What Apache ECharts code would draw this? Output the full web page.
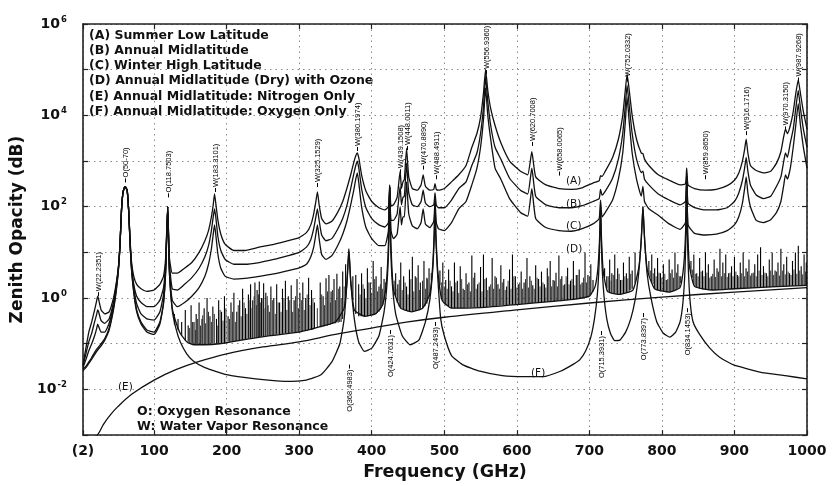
<!DOCTYPE html>
<html>
<head>
<meta charset="utf-8">
<script src="https://cdn.jsdelivr.net/npm/echarts@6/dist/echarts.min.js"></script>
<style>
html,body{margin:0;padding:0;background:#fff;}
#chart{width:839px;height:486px;}
</style>
</head>
<body>
<div id="chart"></div>
<script>
// ---------- DATA ----------
const xTickValues = [2, 100, 200, 300, 400, 500, 600, 700, 800, 900, 1000];

// shared frequency grid for the wet profiles (A, B, C)
const wFreq = [
  2, 6, 10, 14, 18, 21, 22.2, 23.5, 27, 32,
  38, 44, 48, 51, 53, 55, 57, 59, 60, 61,
  63, 65, 67, 69, 72, 76, 82, 90, 100, 108,
  113, 116, 118.75, 121, 125, 132, 142, 152, 162, 170,
  175, 179, 181.5, 183.3, 185, 188, 192, 198, 210, 225,
  245, 265, 285, 300, 310, 316, 320, 323, 325.15, 327.5,
  331, 337, 345, 353, 360, 366, 371, 375, 378, 380.2,
  382.5, 386, 392, 400, 410, 418, 423, 424.76, 426.5, 430,
  435, 439.15, 441, 443.02, 445, 448, 451, 456, 463, 468,
  470.89, 474, 480, 485.5, 487.25, 489, 492, 500, 510, 520,
  530, 538, 545, 550, 554, 556.94, 560, 564, 570, 578,
  590, 605, 615, 620.7, 626, 640, 658, 675, 690, 705,
  713.5, 715.39, 717.5, 722, 732, 740, 746, 749.5, 752.03, 755,
  759, 765, 771.5, 773.84, 776, 782, 795, 810, 825, 832.5,
  834.15, 836, 845, 860, 875, 890, 900, 906, 911, 914,
  916.17, 918.5, 922, 930, 940, 950, 958, 964, 968, 970.3,
  973, 977, 981, 984.5, 987.93, 991, 995, 1000
];
// (A) Summer Low Latitude
const aVal = [
  0.035, 0.08, 0.18, 0.3, 0.55, 0.9, 1.1, 0.95, 0.55, 0.45,
  0.5, 1.0, 2.2, 5, 15, 80, 200, 260, 270, 265,
  220, 80, 18, 6, 3, 2, 1.6, 1.4, 1.5, 2,
  3, 8, 100, 8, 3.5, 3.5, 4.5, 6, 10, 18,
  30, 60, 110, 190, 120, 50, 25, 15, 11, 11,
  13, 15, 18, 21, 27, 40, 70, 130, 210, 110,
  55, 42, 48, 75, 130, 260, 500, 900, 1300, 1500,
  1100, 500, 220, 130, 95, 85, 100, 300, 105, 110,
  160, 600, 250, 350, 400, 1900, 450, 250, 230, 300,
  500, 280, 230, 240, 320, 240, 230, 250, 350, 500,
  800, 2000, 4000, 9000, 30000, 100000, 35000, 14000, 6000, 2500,
  1000, 600, 500, 1600, 450, 300, 250, 240, 260, 330,
  370, 480, 460, 600, 1200, 3000, 10000, 35000, 80000, 35000,
  10000, 3000, 1500, 1450, 1100, 800, 500, 380, 300, 320,
  700, 300, 250, 230, 240, 290, 380, 550, 1000, 1800,
  3000, 1500, 800, 620, 550, 600, 900, 1600, 3500, 5000,
  4000, 6000, 12000, 30000, 60000, 30000, 12000, 5000
];
// (B) Annual Midlatitude
const bVal = [
  0.033, 0.06, 0.11, 0.17, 0.3, 0.45, 0.55, 0.5, 0.32, 0.28,
  0.35, 0.8, 2, 5, 15, 80, 200, 260, 270, 265,
  220, 80, 16, 5, 2, 1.1, 0.8, 0.65, 0.65, 0.9,
  1.7, 6, 100, 6, 1.6, 1.5, 2, 2.8, 4.5, 8,
  14, 30, 60, 90, 60, 22, 11, 7, 5.5, 5.5,
  6, 7, 8.5, 10, 13, 19, 33, 60, 90, 50,
  24, 18, 20, 32, 55, 110, 250, 500, 800, 1000,
  650, 250, 95, 55, 40, 36, 45, 280, 50, 50,
  70, 280, 110, 160, 170, 900, 200, 110, 100, 130,
  230, 120, 100, 110, 200, 108, 95, 95, 140, 250,
  350, 800, 1500, 4000, 15000, 70000, 20000, 6000, 2000, 1100,
  420, 230, 190, 700, 170, 110, 95, 95, 105, 130,
  150, 240, 180, 220, 420, 1100, 4000, 16000, 45000, 16000,
  4000, 1100, 560, 600, 400, 300, 190, 140, 110, 130,
  550, 120, 95, 85, 85, 95, 130, 200, 380, 700,
  1200, 600, 300, 180, 150, 170, 280, 450, 1000, 1500,
  1200, 2500, 5000, 14000, 35000, 14000, 5000, 2000
];
// (C) Winter High Latitude
const cVal = [
  0.03, 0.045, 0.07, 0.1, 0.15, 0.22, 0.27, 0.24, 0.18, 0.18,
  0.28, 0.7, 1.8, 5, 15, 80, 200, 260, 270, 265,
  220, 80, 15, 4.5, 1.7, 0.75, 0.45, 0.35, 0.33, 0.5,
  1.2, 5, 100, 5, 0.9, 0.65, 0.8, 1.1, 1.7, 3,
  5.5, 12, 25, 40, 25, 9, 4.5, 3, 2.6, 2.7,
  3, 3.4, 4, 4.6, 5.5, 8, 13, 25, 40, 20,
  9, 7, 8.5, 14, 25, 50, 110, 220, 400, 550,
  300, 100, 35, 20, 14, 14, 30, 270, 30, 20,
  25, 100, 40, 60, 60, 350, 70, 38, 33, 45,
  90, 42, 35, 48, 140, 45, 33, 30, 45, 90,
  130, 300, 700, 2000, 8000, 40000, 10000, 3000, 700, 400,
  150, 75, 62, 250, 55, 35, 30, 29, 33, 42,
  55, 140, 60, 75, 140, 400, 1500, 7000, 25000, 7000,
  1500, 400, 170, 280, 130, 90, 65, 42, 32, 45,
  470, 40, 26, 24, 25, 30, 40, 60, 120, 250,
  450, 200, 100, 50, 45, 52, 75, 130, 300, 500,
  400, 700, 2000, 6000, 18000, 6000, 2000, 700
];

// (D) Annual Midlatitude (Dry) with Ozone : continuum + O2 lines
const dFreq = [
  2, 6, 10, 14, 18, 22, 27, 32, 38, 44,
  48, 51, 53, 55, 57, 59, 60, 61, 63, 65,
  67, 69, 72, 76, 82, 90, 100, 108, 113, 116,
  118.75, 121, 125, 130, 136, 145, 155, 170, 190, 220,
  260, 300, 330, 350, 362, 366, 368.5, 371, 376, 390,
  405, 415, 420, 423, 424.76, 426.5, 430, 440, 455, 470,
  480, 484, 486, 487.25, 488.5, 491, 497, 510, 550, 600,
  650, 680, 700, 708, 712, 714.3, 715.39, 716.5, 719, 725,
  740, 760, 768, 771.5, 773.84, 776.2, 780, 790, 810, 825,
  830, 832.7, 834.15, 835.6, 838, 845, 870, 900, 950, 1000
];
const dVal = [
  0.028, 0.032, 0.04, 0.05, 0.065, 0.08, 0.1, 0.13, 0.22, 0.6,
  1.6, 4.5, 14, 80, 200, 260, 270, 265, 220, 80,
  14, 4, 1.4, 0.55, 0.3, 0.2, 0.18, 0.3, 0.8, 4,
  100, 4, 0.6, 0.3, 0.17, 0.11, 0.095, 0.095, 0.1, 0.12,
  0.15, 0.18, 0.24, 0.3, 0.6, 2.5, 12, 2.5, 0.55, 0.4,
  0.45, 0.7, 2, 15, 280, 15, 1.5, 0.6, 0.5, 0.6,
  1.2, 5, 25, 130, 25, 4, 0.9, 0.6, 0.62, 0.72,
  0.85, 0.95, 1.1, 1.8, 5, 25, 110, 25, 4, 1.4,
  1.2, 1.5, 4.5, 18, 100, 18, 4, 1.6, 1.35, 1.7,
  5, 30, 450, 30, 5, 1.8, 1.5, 1.6, 1.75, 1.9
];
// ozone line forest of (D), strong lines: frequency, foot and top of each line
const o3Freq = [
  128,133,138,143,147,151,155,158,162,166,
  169,173,177,181,186,189,193,197,202,206,
  210,214,218,222,226,230,233,236,239,242,
  245,248,251,254,257,261,265,269,273,277,
  281,285,289,293,297,301,305,309,313,317,
  321,329,333,337,341,344,348,352,356,360,
  364,374,378,382,386,390,394,398,402,406,
  410,413,417,433,436,440,444,448,452,456,
  460,464,467,472,476,479,494,498,502,506,
  510,514,518,522,526,530,534,538,542,546,
  550,554,558,562,566,570,574,578,582,586,
  590,594,598,602,606,610,614,618,622,626,
  630,634,638,642,646,650,654,658,662,666,
  670,674,678,682,686,690,694,698,702,705,
  721,724,728,731,735,739,743,747,751,755,
  759,763,782,786,790,794,798,802,806,810,
  814,818,822,826,840,844,848,852,856,860,
  864,868,872,876,880,884,888,892,896,900,
  904,908,912,916,920,924,928,932,936,940,
  944,948,952,956,960,964,968,972,976,980,
  984,988,992,996,999
];
const o3Top = [
  0.45,0.35,0.3,0.55,0.25,0.7,0.3,0.45,0.8,0.35,
  0.6,1.0,0.4,0.65,0.35,0.9,0.5,1.1,0.4,0.8,
  1.3,0.5,0.9,1.6,0.6,1.2,2.0,0.9,2.2,1.5,
  2.3,1.0,2.1,1.3,0.7,1.8,1.0,2.0,0.8,1.6,
  2.4,1.1,1.9,0.9,2.6,1.3,2.2,1.0,2.8,1.5,
  0.8,2.2,1.1,2.7,3.2,1.4,2.6,3.4,1.8,3.8,
  5.5,3.0,3.2,2.0,3.5,1.6,4.5,2.2,6.5,3.0,
  1.8,4.8,2.6,3.5,2.0,6.0,3.0,1.8,4.2,8.0,
  3.0,5.2,2.2,6.5,2.8,4.5,4.0,6.0,2.5,4.2,
  1.8,6.0,2.4,5.0,1.6,3.5,2.2,8.5,3.6,2.0,
  4.8,9.0,2.8,1.8,7.5,3.0,2.0,5.2,2.6,1.8,
  4.2,9.0,3.0,2.0,3.8,2.2,7.5,3.0,1.9,5.2,
  2.6,3.8,2.0,4.5,6.5,2.5,3.6,8.5,3.0,2.0,
  4.6,2.4,6.5,3.2,4.2,2.2,10,3.2,5.5,2.5,
  4.5,3.0,7.0,3.5,9.0,4.5,2.5,6.0,3.5,8.0,
  4.0,10,6.5,9.0,4.5,7.5,3.5,5.5,2.5,7.0,
  4.2,10,5.5,3.0,6.5,9.0,3.5,7.5,4.0,10,
  5.5,3.0,7.0,4.5,12,6.0,9.0,3.5,5.0,8.0,
  3.2,6.0,10,4.5,7.0,3.5,5.5,9.0,13,5.0,
  3.5,7.0,10,4.0,6.0,12,5.5,8.0,3.5,6.5,
  10,14,5.0,9.0,6.0
];
const o3Base = [
  0.26,0.2,0.15,0.12,0.11,0.1,0.095,0.095,0.095,0.095,
  0.095,0.095,0.095,0.1,0.1,0.1,0.1,0.1,0.11,0.11,
  0.115,0.115,0.12,0.12,0.125,0.13,0.13,0.135,0.135,0.14,
  0.14,0.145,0.145,0.15,0.15,0.155,0.155,0.16,0.16,0.165,
  0.17,0.17,0.175,0.175,0.18,0.18,0.19,0.19,0.2,0.2,
  0.21,0.23,0.24,0.25,0.26,0.27,0.28,0.29,0.3,0.35,
  1.0,0.9,0.45,0.4,0.4,0.4,0.4,0.42,0.43,0.45,
  0.5,0.6,0.9,1.1,0.85,0.6,0.55,0.52,0.5,0.5,
  0.52,0.55,0.58,0.65,0.75,1.1,1.9,0.85,0.7,0.65,
  0.6,0.6,0.6,0.6,0.6,0.61,0.61,0.62,0.62,0.62,
  0.62,0.63,0.64,0.65,0.66,0.67,0.68,0.69,0.7,0.7,
  0.71,0.71,0.72,0.73,0.74,0.75,0.76,0.77,0.78,0.79,
  0.8,0.81,0.82,0.83,0.84,0.85,0.86,0.87,0.88,0.89,
  0.9,0.92,0.93,0.94,0.96,0.98,1.0,1.05,1.2,1.4,
  2.8,1.65,1.35,1.3,1.25,1.2,1.2,1.25,1.3,1.45,
  1.6,2.1,3.2,2.2,1.6,1.5,1.4,1.4,1.35,1.35,
  1.4,1.5,1.6,2.1,3.6,2.0,1.7,1.6,1.55,1.5,
  1.5,1.5,1.5,1.5,1.52,1.54,1.55,1.57,1.58,1.6,
  1.61,1.62,1.63,1.64,1.65,1.66,1.67,1.68,1.69,1.7,
  1.71,1.73,1.74,1.75,1.77,1.78,1.8,1.81,1.83,1.85,
  1.86,1.87,1.88,1.89,1.9
];
// ozone line forest of (D), weak lines filling the dark band
const o3wFreq = [
  149,153,157,160,164,167,171,175,179,183,
  187,191,195,199,204,208,212,216,220,224,
  228,231,235,238,241,244,247,250,253,256,
  259,263,267,271,275,279,283,287,291,295,
  299,303,307,311,315,319,325,331,335,339,
  343,346,350,354,358,362,384,388,392,396,
  400,404,408,412,415,419,431,435,438,442,
  446,450,454,458,462,466,470,474,477,482,
  496,500,504,508,512,516,520,524,528,532,
  536,540,544,548,552,556,560,564,568,572,
  576,580,584,588,592,596,600,604,608,612,
  616,620,624,628,632,636,640,644,648,652,
  656,660,664,668,672,676,680,684,688,692,
  696,700,726,730,733,737,741,745,749,753,
  757,784,788,792,796,800,804,808,812,816,
  820,824,842,846,850,854,858,862,866,870,
  874,878,882,886,890,894,898,902,906,910,
  914,918,922,926,930,934,938,942,946,950,
  954,958,962,966,970,974,978,982,986,990,
  994,998
];
const o3wBase = [
  .1,.1,.095,.095,.095,.095,.095,.095,.1,.1,
  .1,.1,.1,.1,.11,.11,.115,.115,.12,.12,
  .125,.13,.13,.135,.135,.14,.14,.145,.145,.15,
  .15,.155,.155,.16,.16,.165,.17,.17,.175,.175,
  .18,.18,.19,.19,.2,.2,.22,.23,.24,.25,
  .26,.27,.28,.29,.3,.6,.4,.4,.4,.41,
  .42,.44,.47,.55,.7,1.3,1.2,.8,.65,.58,
  .53,.5,.5,.51,.53,.56,.6,.68,.85,2.5,
  1.0,.75,.67,.62,.6,.6,.6,.6,.6,.61,
  .61,.62,.62,.62,.62,.63,.64,.65,.66,.67,
  .68,.69,.7,.7,.71,.71,.72,.73,.74,.75,
  .76,.77,.78,.79,.8,.81,.82,.83,.84,.85,
  .86,.87,.88,.89,.91,.92,.93,.95,.97,.99,
  1.02,1.1,1.4,1.3,1.28,1.22,1.2,1.22,1.27,1.35,
  1.5,2.8,2.0,1.55,1.45,1.4,1.38,1.35,1.37,1.45,
  1.55,1.7,2.8,1.8,1.65,1.57,1.52,1.5,1.5,1.5,
  1.5,1.51,1.53,1.55,1.56,1.57,1.59,1.6,1.61,1.62,
  1.63,1.64,1.65,1.66,1.67,1.68,1.69,1.7,1.72,1.73,
  1.74,1.76,1.77,1.79,1.8,1.82,1.84,1.85,1.86,1.87,
  1.88,1.89
];
const o3wTop = [
  .22,.3,.2,.35,.25,.42,.28,.5,.3,.45,
  .25,.55,.32,.6,.35,.5,.3,.7,.4,.8,
  .45,.9,.6,1.1,.7,1.2,.8,1.0,.6,1.1,
  .5,.9,.45,.8,.5,1.0,.55,.9,.5,1.1,
  .6,.9,.55,1.2,.7,1.0,.6,1.2,.7,1.4,
  .8,1.5,.9,1.6,1.0,1.8,1.2,2.0,1.0,2.2,
  1.3,2.6,1.4,2.0,1.6,2.2,2.4,1.6,2.5,1.5,
  2.2,1.2,2.6,1.4,2.8,1.5,2.4,1.6,2.6,3.5,
  2.2,1.8,1.6,2.4,1.4,2.2,1.3,2.6,1.5,2.0,
  1.4,2.8,1.6,2.2,1.4,2.6,1.5,2.0,1.6,2.8,
  1.6,2.2,1.5,2.4,1.6,3.0,1.7,2.2,1.6,2.6,
  1.7,2.4,1.6,2.8,1.8,2.2,1.7,3.0,1.8,2.4,
  1.8,2.6,1.9,3.0,2.0,2.6,1.9,3.2,2.0,2.8,
  2.2,3.0,3.0,2.4,3.2,2.6,3.4,2.5,3.0,2.7,
  3.4,4.0,3.5,3.0,3.6,2.8,3.4,2.6,3.5,2.8,
  3.6,3.0,4.2,3.4,3.0,3.8,3.0,3.6,2.8,3.4,
  2.9,3.8,3.0,3.5,2.9,3.6,3.0,3.8,3.0,3.5,
  3.0,3.8,3.1,3.6,3.0,4.0,3.2,3.6,3.0,4.0,
  3.2,3.8,3.1,4.0,3.3,3.8,3.2,4.2,3.4,4.0,
  3.3,3.8
];

// (E) Nitrogen only
const eFreq = [20, 25, 30, 40, 50, 70, 100, 130, 160, 200, 250, 300, 350, 400, 450, 500, 600, 700, 800, 900, 1000];
const eVal  = [0.0009, 0.0012, 0.0017, 0.0028, 0.0042, 0.008, 0.016, 0.027, 0.04, 0.06, 0.085, 0.11, 0.16, 0.22, 0.3, 0.38, 0.55, 0.78, 1.05, 1.35, 1.7];

// (F) Oxygen only
const fFreq = [
  2, 6, 10, 14, 18, 22, 27, 32, 38, 44,
  48, 51, 53, 55, 57, 59, 60, 61, 63, 65,
  67, 69, 72, 76, 82, 90, 100, 108, 113, 116,
  118.75, 121, 125, 130, 136, 145, 154, 170, 200, 240,
  280, 310, 330, 345, 356, 362, 366, 368.5, 371, 376,
  382, 390, 400, 410, 417, 421, 423.5, 424.76, 426, 428.5,
  433, 442, 453, 465, 474, 480, 484, 486.2, 487.25, 488.3,
  490.5, 495, 500, 510, 525, 549, 580, 610, 636, 660,
  677, 687, 695, 702, 707, 711, 713.5, 714.6, 715.39, 716.2,
  717.3, 720, 724, 729, 735, 742, 750, 757, 763, 768,
  771.2, 772.9, 773.84, 774.8, 776.5, 779.5, 785, 793, 802, 811,
  819, 825, 829, 831.8, 833.3, 834.15, 835, 836.5, 839, 843,
  852, 866, 880, 898, 935, 970, 1000
];
const fVal = [
  0.026, 0.03, 0.037, 0.046, 0.058, 0.072, 0.09, 0.12, 0.2, 0.55,
  1.5, 4.5, 14, 80, 200, 260, 270, 265, 220, 80,
  14, 4, 1.3, 0.5, 0.27, 0.18, 0.16, 0.27, 0.75, 4,
  100, 4, 0.55, 0.22, 0.11, 0.06, 0.042, 0.03, 0.021, 0.017,
  0.015, 0.016, 0.021, 0.04, 0.1, 0.35, 2.3, 11, 2.3, 0.35,
  0.11, 0.068, 0.08, 0.15, 0.5, 2, 15, 270, 15, 2,
  0.45, 0.15, 0.095, 0.12, 0.3, 0.9, 4, 22, 125, 22,
  4, 0.36, 0.15, 0.055, 0.035, 0.025, 0.02, 0.019, 0.019, 0.025,
  0.035, 0.045, 0.07, 0.14, 0.35, 1.2, 6, 30, 100, 30,
  6, 1.2, 0.35, 0.17, 0.117, 0.12, 0.18, 0.35, 0.9, 3.5,
  16, 50, 100, 50, 16, 3.5, 1, 0.3, 0.17, 0.14,
  0.18, 0.3, 0.8, 4, 30, 450, 30, 4, 0.8, 0.3,
  0.16, 0.08, 0.05, 0.035, 0.024, 0.02, 0.017
];

// resonance annotations: frequency, value where the label meets the curve, direction (1 above, -1 below)
const lblText = [
  'W(22.2351)', 'O(50-70)', 'O(118.7503)', 'W(183.3101)', 'W(325.1529)', 'W(380.1974)',
  'W(439.1508)', 'W(448.0011)', 'W(470.8890)', 'W(488.4911)', 'W(556.9360)', 'W(620.7008)',
  'W(658.0065)', 'W(752.0332)', 'W(859.8650)', 'W(916.1716)', 'W(970.3150)', 'W(987.9268)',
  'O(368.4983)', 'O(424.7631)', 'O(487.2493)', 'O(715.3931)', 'O(773.8397)', 'O(834.1453)'
];
const lblFreq = [
  22.2351, 60, 118.7503, 183.3101, 325.1529, 380.1974,
  439.1508, 448.0011, 470.889, 488.4911, 556.936, 620.7008,
  658.0065, 752.0332, 859.865, 916.1716, 970.315, 987.9268,
  368.4983, 424.7631, 487.2493, 715.3931, 773.8397, 834.1453
];
const lblAt = [
  1.1, 340, 160, 210, 270, 1660,
  540, 1740, 650, 400, 80000, 2140,
  480, 55000, 400, 3700, 4700, 55000,
  0.035, 0.2, 0.3, 0.19, 0.47, 0.6
];
const lblDir = [
  1, 1, 1, 1, 1, 1, 1, 1, 1, 1, 1, 1, 1, 1, 1, 1, 1, 1,
  -1, -1, -1, -1, -1, -1
];

const legendLines = [
  '(A) Summer Low Latitude',
  '(B) Annual Midlatitude',
  '(C) Winter High Latitude',
  '(D) Annual Midlatitude (Dry) with Ozone',
  '(E) Annual Midlatitude: Nitrogen Only',
  '(F) Annual Midlatitude: Oxygen Only'
];
const noteLines = ['O: Oxygen Resonance', 'W: Water Vapor Resonance'];

// ---------- CHART ----------
const FONT = '"DejaVu Sans", "Liberation Sans", sans-serif';
const INK = '#111';
const chart = echarts.init(document.getElementById('chart'), null, {renderer: 'canvas'});

function pairs(xs, ys) { return xs.map((x, i) => [x, ys[i]]); }
function curve(name, xs, ys, smooth) {
  return {
    name, type: 'line', data: pairs(xs, ys), showSymbol: false, symbol: 'none',
    smooth: smooth, clip: true,
    lineStyle: {color: INK, width: 1.3}, z: 3, animation: false
  };
}
function spikes(name, fs, lo, hi, width, color) {
  return {
    name, type: 'custom', z: 2, animation: false, silent: true,
    data: fs.map((f, i) => [f, lo[i], hi[i]]),
    encode: {x: 0, y: [1, 2]},
    renderItem: (params, api) => {
      const f = api.value(0);
      const p1 = api.coord([f, api.value(1)]);
      const p2 = api.coord([f, api.value(2)]);
      return {type: 'line', shape: {x1: p1[0], y1: p1[1], x2: p2[0], y2: p2[1]},
              style: {stroke: color, lineWidth: width}};
    }
  };
}
const frameLine = {show: true, onZero: false, lineStyle: {color: '#222', width: 1.6}};
const dotted = {show: true, lineStyle: {color: '#8a8a8a', width: 1, type: [1.5, 4]}};

const option = {
  backgroundColor: '#fff',
  animation: false,
  grid: {left: 83, right: 32, top: 24, bottom: 44, containLabel: false},
  xAxis: [{
    type: 'value', min: 2, max: 1000, position: 'bottom',
    axisLine: frameLine,
    axisTick: {show: true, inside: true, length: 5, customValues: xTickValues, lineStyle: {color: '#222', width: 1.2}},
    axisLabel: {
      customValues: xTickValues, margin: 9,
      formatter: v => (v === 2 ? '(2)' : String(v)),
      fontFamily: FONT, fontWeight: 'bold', fontSize: 14, color: INK
    },
    splitLine: dotted,
    name: 'Frequency (GHz)', nameLocation: 'middle', nameGap: 23,
    nameTextStyle: {fontFamily: FONT, fontWeight: 'bold', fontSize: 17.5, color: INK}
  }, {
    type: 'value', min: 2, max: 1000, position: 'top',
    axisLine: frameLine,
    axisTick: {show: true, inside: true, length: 5, customValues: xTickValues, lineStyle: {color: '#222', width: 1.2}},
    axisLabel: {show: false}, splitLine: {show: false}
  }],
  yAxis: [{
    type: 'log', logBase: 10, min: 1e-3, max: 1e6, position: 'left',
    axisLine: frameLine,
    axisTick: {show: true, inside: true, length: 5, lineStyle: {color: '#222', width: 1.2}},
    axisLabel: {
      margin: 16,
      formatter: v => { const e = Math.round(Math.log10(v)); return e % 2 === 0 ? '{b|10}{s|' + e + '}' : ''; },
      rich: {
        b: {fontFamily: FONT, fontWeight: 'bold', fontSize: 14, color: INK},
        s: {fontFamily: FONT, fontWeight: 'bold', fontSize: 8.5, color: INK, padding: [0, 0, 9, 1]}
      }
    },
    splitLine: dotted,
    name: 'Zenith Opacity (dB)', nameLocation: 'middle', nameGap: 46, nameRotate: 90,
    nameTextStyle: {fontFamily: FONT, fontWeight: 'bold', fontSize: 17, color: INK}
  }, {
    type: 'log', logBase: 10, min: 1e-3, max: 1e6, position: 'right',
    axisLine: frameLine,
    axisTick: {show: true, inside: true, length: 5, lineStyle: {color: '#222', width: 1.2}},
    axisLabel: {show: false}, splitLine: {show: false}
  }],
  series: [
    curve('A', wFreq, aVal, 0.15),
    curve('B', wFreq, bVal, 0.15),
    curve('C', wFreq, cVal, 0.15),
    curve('D', dFreq, dVal, 0.15),
    curve('E', eFreq, eVal, 0.35),
    curve('F', fFreq, fVal, 0.15),
    spikes('ozone strong', o3Freq, o3Base, o3Top, 1.1, '#000'),
    spikes('ozone weak', o3wFreq, o3wBase, o3wTop, 1.0, '#333'),
    {
      name: 'labels', type: 'custom', z: 4, animation: false, silent: true,
      data: lblFreq.map((f, i) => [f, lblAt[i]]),
      encode: {x: 0, y: 1},
      renderItem: (params, api) => {
        const i = params.dataIndex;
        const p = api.coord([api.value(0), api.value(1)]);
        const up = lblDir[i] > 0;
        const x = Math.round(p[0]) + 0.5;
        return {type: 'group', children: [
          {type: 'line', shape: {x1: x, y1: p[1], x2: x, y2: p[1] + (up ? -4 : 4)},
           style: {stroke: '#000', lineWidth: 1}},
          {type: 'text', x: x, y: p[1] + (up ? -5 : 5), rotation: Math.PI / 2,
           style: {text: lblText[i], fontFamily: '"Liberation Sans", Arial, sans-serif', fontSize: 7.5,
                   fill: '#000', align: up ? 'left' : 'right', verticalAlign: 'middle'}}
        ]};
      }
    }
  ],
  graphic: [
    {type: 'text', left: 89, top: 28, silent: true,
     style: {text: legendLines.join('\n'), fontFamily: FONT, fontWeight: 'bold', fontSize: 12.5, lineHeight: 15.2, fill: INK}},
    {type: 'text', left: 137, top: 404, silent: true,
     style: {text: noteLines.join('\n'), fontFamily: FONT, fontWeight: 'bold', fontSize: 12.5, lineHeight: 15, fill: INK}},
    {type: 'text', left: 566, top: 176, silent: true, style: {text: '(A)', fontFamily: FONT, fontSize: 10.5, fill: INK}},
    {type: 'text', left: 566, top: 199, silent: true, style: {text: '(B)', fontFamily: FONT, fontSize: 10.5, fill: INK}},
    {type: 'text', left: 566, top: 221, silent: true, style: {text: '(C)', fontFamily: FONT, fontSize: 10.5, fill: INK}},
    {type: 'text', left: 566, top: 244, silent: true, style: {text: '(D)', fontFamily: FONT, fontSize: 10.5, fill: INK}},
    {type: 'text', left: 118, top: 382, silent: true, style: {text: '(E)', fontFamily: FONT, fontSize: 10.5, fill: INK}},
    {type: 'text', left: 531, top: 368, silent: true, style: {text: '(F)', fontFamily: FONT, fontSize: 10.5, fill: INK}}
  ]
};
chart.setOption(option);
</script>
</body>
</html>
